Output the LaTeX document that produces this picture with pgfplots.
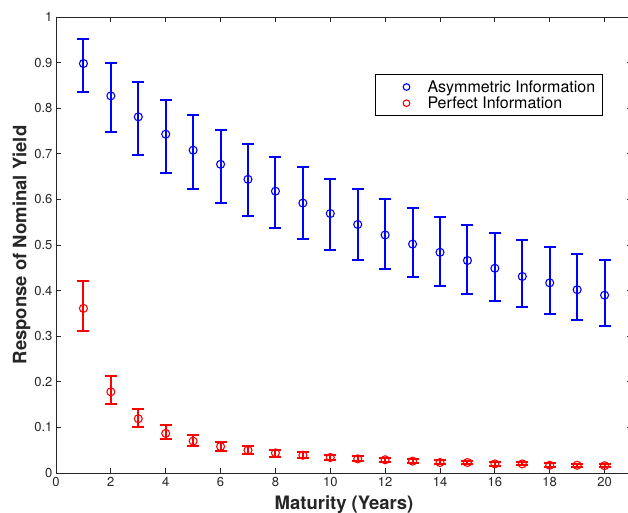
\documentclass[border=0pt]{standalone}
\usepackage{fontspec}
\setmainfont{TeX Gyre Heros}
\usepackage{pgfplots}
\usepackage{pgfplotstable}
\pgfplotsset{compat=1.18}
\definecolor{axgray}{RGB}{38,38,38}

\pgfplotstableread{
x y ep em
1 0.898 0.054 0.062
2 0.827 0.073 0.079
3 0.781 0.076 0.083
4 0.743 0.075 0.085
5 0.708 0.076 0.085
6 0.677 0.075 0.085
7 0.644 0.078 0.080
8 0.618 0.076 0.081
9 0.592 0.078 0.079
10 0.569 0.075 0.079
11 0.545 0.078 0.077
12 0.522 0.079 0.075
13 0.502 0.079 0.073
14 0.484 0.078 0.073
15 0.466 0.078 0.073
16 0.449 0.078 0.072
17 0.431 0.081 0.068
18 0.417 0.079 0.068
19 0.402 0.079 0.066
20 0.390 0.077 0.068
}\asym

\pgfplotstableread{
x y ep em
1 0.361 0.059 0.049
2 0.178 0.035 0.027
3 0.119 0.022 0.019
4 0.087 0.019 0.012
5 0.070 0.014 0.011
6 0.058 0.011 0.009
7 0.050 0.009 0.008
8 0.044 0.007 0.008
9 0.039 0.006 0.007
10 0.034 0.006 0.005
11 0.031 0.006 0.005
12 0.029 0.005 0.005
13 0.026 0.005 0.004
14 0.023 0.005 0.004
15 0.023 0.004 0.004
16 0.020 0.004 0.004
17 0.020 0.004 0.003
18 0.017 0.004 0.003
19 0.017 0.003 0.003
20 0.016 0.003 0.003
}\perf

\begin{document}
\begin{tikzpicture}
\begin{axis}[
  scale only axis,
  width=576pt, height=456pt,
  xmin=0, xmax=21, ymin=0, ymax=1,
  xtick={0,2,...,20},
  ytick={0,0.1,...,1},
  yticklabels={0,0.1,0.2,0.3,0.4,0.5,0.6,0.7,0.8,0.9,1},
  tick align=inside,
  major tick length=5pt,
  axis line style={axgray, line width=0.8pt},
  tick style={axgray, line width=0.8pt},
  tick label style={text=axgray, font=\fontsize{13}{15}\selectfont},
  /pgf/number format/assume math mode=true,
  xticklabel style={yshift=-1pt},
  xlabel={\textbf{Maturity (Years)}},
  ylabel={\textbf{Response of Nominal Yield}},
  label style={text=axgray, font=\fontsize{18.5}{20}\selectfont},
  xlabel style={yshift=-2pt},
  ylabel style={yshift=-3pt},
  legend style={at={(0.554,0.875)}, anchor=north west, draw=black, line width=0.8pt,
    font=\fontsize{16}{18}\selectfont, text=black, inner xsep=5pt, inner ysep=4pt,
    row sep=-1pt},
  legend image code/.code={%
    \path[draw=none, use as bounding box] (0pt,-1pt) rectangle (45pt,1pt);
    \draw[#1, only marks, mark size=3.3pt, mark options={line width=1.1pt}] plot coordinates {(26pt,0pt)};},
  legend cell align=left,
]
\addplot[only marks, color=blue, mark=o, mark size=4pt, mark options={color=blue, line width=1.1pt},
  error bars/.cd, y dir=both, y explicit,
  error bar style={color=blue, line width=2pt},
  error mark options={rotate=90, mark size=6pt, line width=2pt, color=blue, draw=blue}]
  table[x=x, y=y, y error plus=ep, y error minus=em]{\asym};
\addlegendentry{Asymmetric Information}
\addplot[only marks, color=red, mark=o, mark size=4pt, mark options={color=red, line width=1.1pt},
  error bars/.cd, y dir=both, y explicit,
  error bar style={color=red, line width=2pt},
  error mark options={rotate=90, mark size=6pt, line width=2pt, color=red, draw=red}]
  table[x=x, y=y, y error plus=ep, y error minus=em]{\perf};
\addlegendentry{Perfect Information}
\end{axis}
\pgfresetboundingbox
\path ([shift={(-56pt,-39pt)}]current axis.south west) rectangle ([shift={(572pt,473pt)}]current axis.south west);
\end{tikzpicture}
\end{document}
